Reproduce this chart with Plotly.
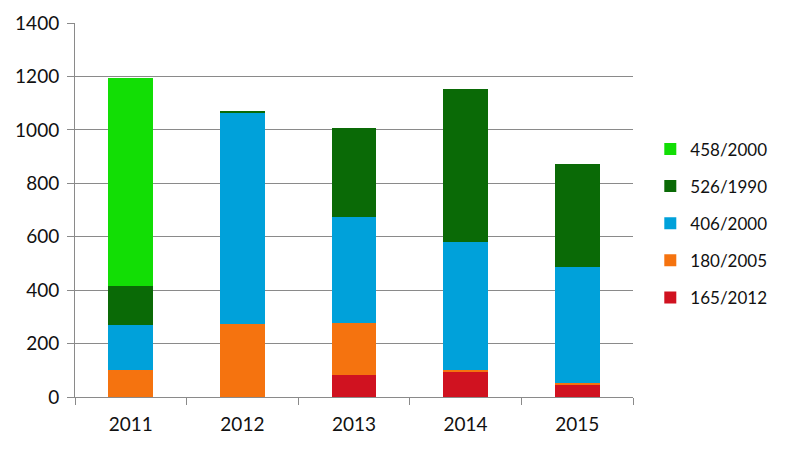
import plotly.graph_objects as go

years = ["2011", "2012", "2013", "2014", "2015"]
s165_2012 = [0, 0, 81, 92, 47]
s180_2005 = [100, 275, 197, 8, 4]
s406_2000 = [168, 791, 397, 481, 437]
s526_1990 = [149, 6, 333, 573, 385]
s458_2000 = [778, 0, 0, 0, 0]

series = [
    ("165/2012", s165_2012, "rgb(208,18,32)"),
    ("180/2005", s180_2005, "rgb(245,115,15)"),
    ("406/2000", s406_2000, "rgb(0,161,218)"),
    ("526/1990", s526_1990, "rgb(10,106,6)"),
    ("458/2000", s458_2000, "rgb(18,222,5)"),
]

fig = go.Figure()
for i, (name, vals, col) in enumerate(series):
    fig.add_trace(go.Bar(x=years, y=vals, name=name, marker=dict(color=col, line=dict(width=0)),
                         legendgroup=name, legendrank=1000 - i))

fig.update_layout(
    barmode="stack",
    bargap=0.6,
    width=786, height=450,
    margin=dict(l=75, r=153, t=23, b=53, autoexpand=False),
    paper_bgcolor="white", plot_bgcolor="white",
    font=dict(family="Lato, Open Sans, sans-serif", size=19, color="#111"),
    legend=dict(x=1.031, y=0.71, xanchor="left", yanchor="top", traceorder="grouped",
                tracegroupgap=12, font=dict(size=17)),
    showlegend=True,
)
fig.update_yaxes(range=[0, 1400], dtick=200, showgrid=True, gridcolor="#8a8a8a", gridwidth=1,
                 showline=True, linecolor="#8a8a8a", ticks="outside", ticklen=7, tickcolor="#8a8a8a",
                 zeroline=False, fixedrange=True, ticklabelstandoff=4)
fig.update_xaxes(showline=True, linecolor="#8a8a8a", ticks="outside", ticklen=7, tickcolor="#8a8a8a",
                 tickson="boundaries", showgrid=False, ticklabelstandoff=10)

fig.write_html("out.html")
